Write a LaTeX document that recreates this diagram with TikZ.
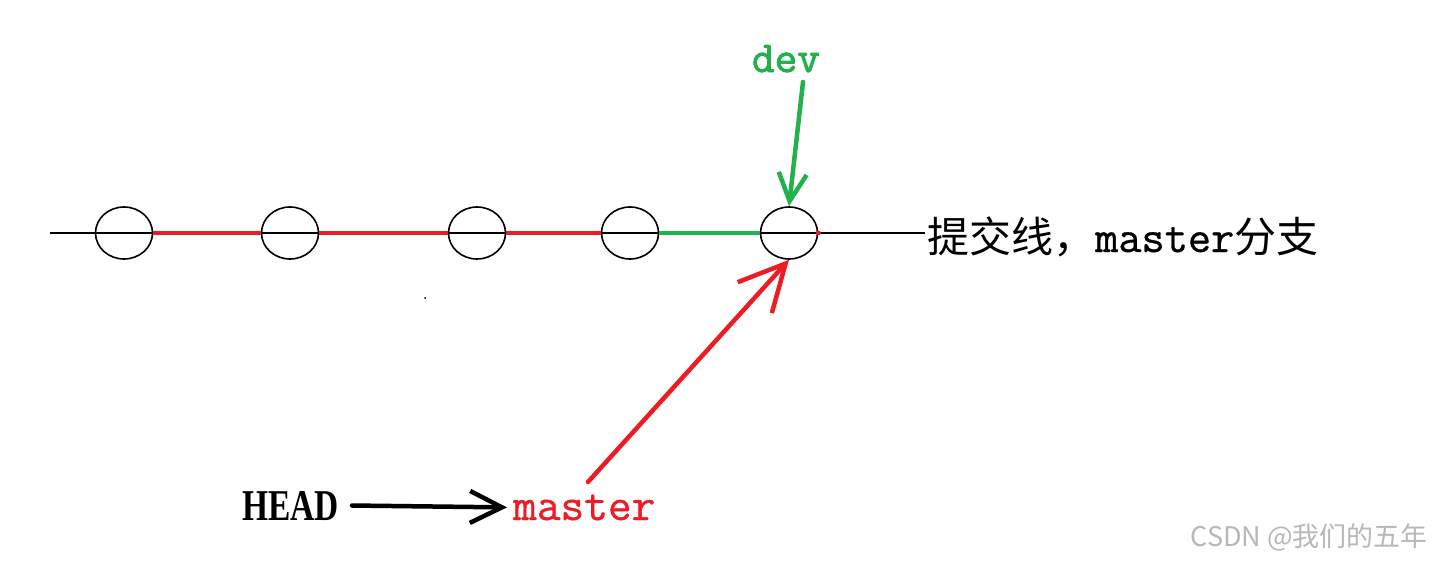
\documentclass[tikz,border=0pt]{standalone}
\usepackage{fontspec}
\setmainfont{Liberation Serif}
\newfontfamily\cjk{Noto Sans CJK SC}
\newfontfamily\lmmono[FakeBold=0.8]{Latin Modern Mono}
\newfontfamily\lmmonob[FakeBold=2]{Latin Modern Mono}
\usetikzlibrary{arrows.meta,shapes.geometric}
\definecolor{pred}{HTML}{ED1C24}
\definecolor{pgreen}{HTML}{22B14C}
\tikzset{
  commit/.style={draw=black, line width=1.6pt, ellipse, minimum width=57pt, minimum height=52pt, inner sep=0pt},
  baseline line/.style={draw=black, line width=1.4pt},
  redseg/.style={draw=pred, line width=4.5pt},
  greenseg/.style={draw=pgreen, line width=4.5pt},
  ptr/.style={line width=4.5pt, line cap=round, -{Straight Barb[length=#1,width=#1,line width=4.5pt]}},
}
\begin{document}
\begin{tikzpicture}[x=1pt,y=-1pt]
\useasboundingbox (0,0) rectangle (1433,562);
\fill[white] (0,0) rectangle (1433,562);
% main line
\coordinate (ls) at (50,233);
\coordinate (le) at (925,233);
\draw[baseline line] (ls) -- (le);
% commits
\node[commit] (c1) at (124,233) {};
\node[commit] (c2) at (290,233) {};
\node[commit] (c3) at (477,233) {};
\node[commit] (c4) at (630,233) {};
\node[commit] (c5) at (789,233) {};
\draw[redseg] (c1.east) -- (c2.west);
\draw[redseg] (c2.east) -- (c3.west);
\draw[redseg] (c3.east) -- (c4.west);
\draw[greenseg] (c4.east) -- (c5.west);
\fill[pred] (c5.east) circle (2.4pt);
% label of line
\node[anchor=base west, inner sep=0pt] (lbl) at (927,252)
  {{\fontsize{42}{42}\selectfont\cjk 提交线，}{\fontsize{45}{45}\selectfont\lmmono master}{\fontsize{42}{42}\selectfont\cjk 分支}};
% dev
\node[anchor=base, inner sep=0pt, text=pgreen, font=\fontsize{44}{44}\selectfont\lmmonob] (dev) at (786,72) {dev};
\coordinate (devs) at (803,82);
\draw[ptr=28pt, draw=pgreen] (devs) -- (c5.north);
% HEAD and master
\node[anchor=base west, inner sep=0pt, font=\fontsize{44}{44}\selectfont\bfseries] (head) at (242,520) {\scalebox{0.76}[1]{HEAD}};
\node[anchor=base west, inner sep=0pt, text=pred, font=\fontsize{46}{46}\selectfont\lmmono] (master) at (513,520) {master};
\draw[ptr=32pt, draw=black] ([xshift=13pt]head.east) -- ([xshift=-6pt]master.west);
\coordinate (ms) at (588,482);
\draw[ptr=46pt, draw=pred] (ms) -- (c5.south);
% stray speck
\fill[black] (425,298) circle (1pt);
% watermark
\node[anchor=base east, inner sep=0pt, text=black!28, font=\fontsize{27}{27}\selectfont\cjk] (wm) at (1428,546) {CSDN @我们的五年};
\end{tikzpicture}
\end{document}
